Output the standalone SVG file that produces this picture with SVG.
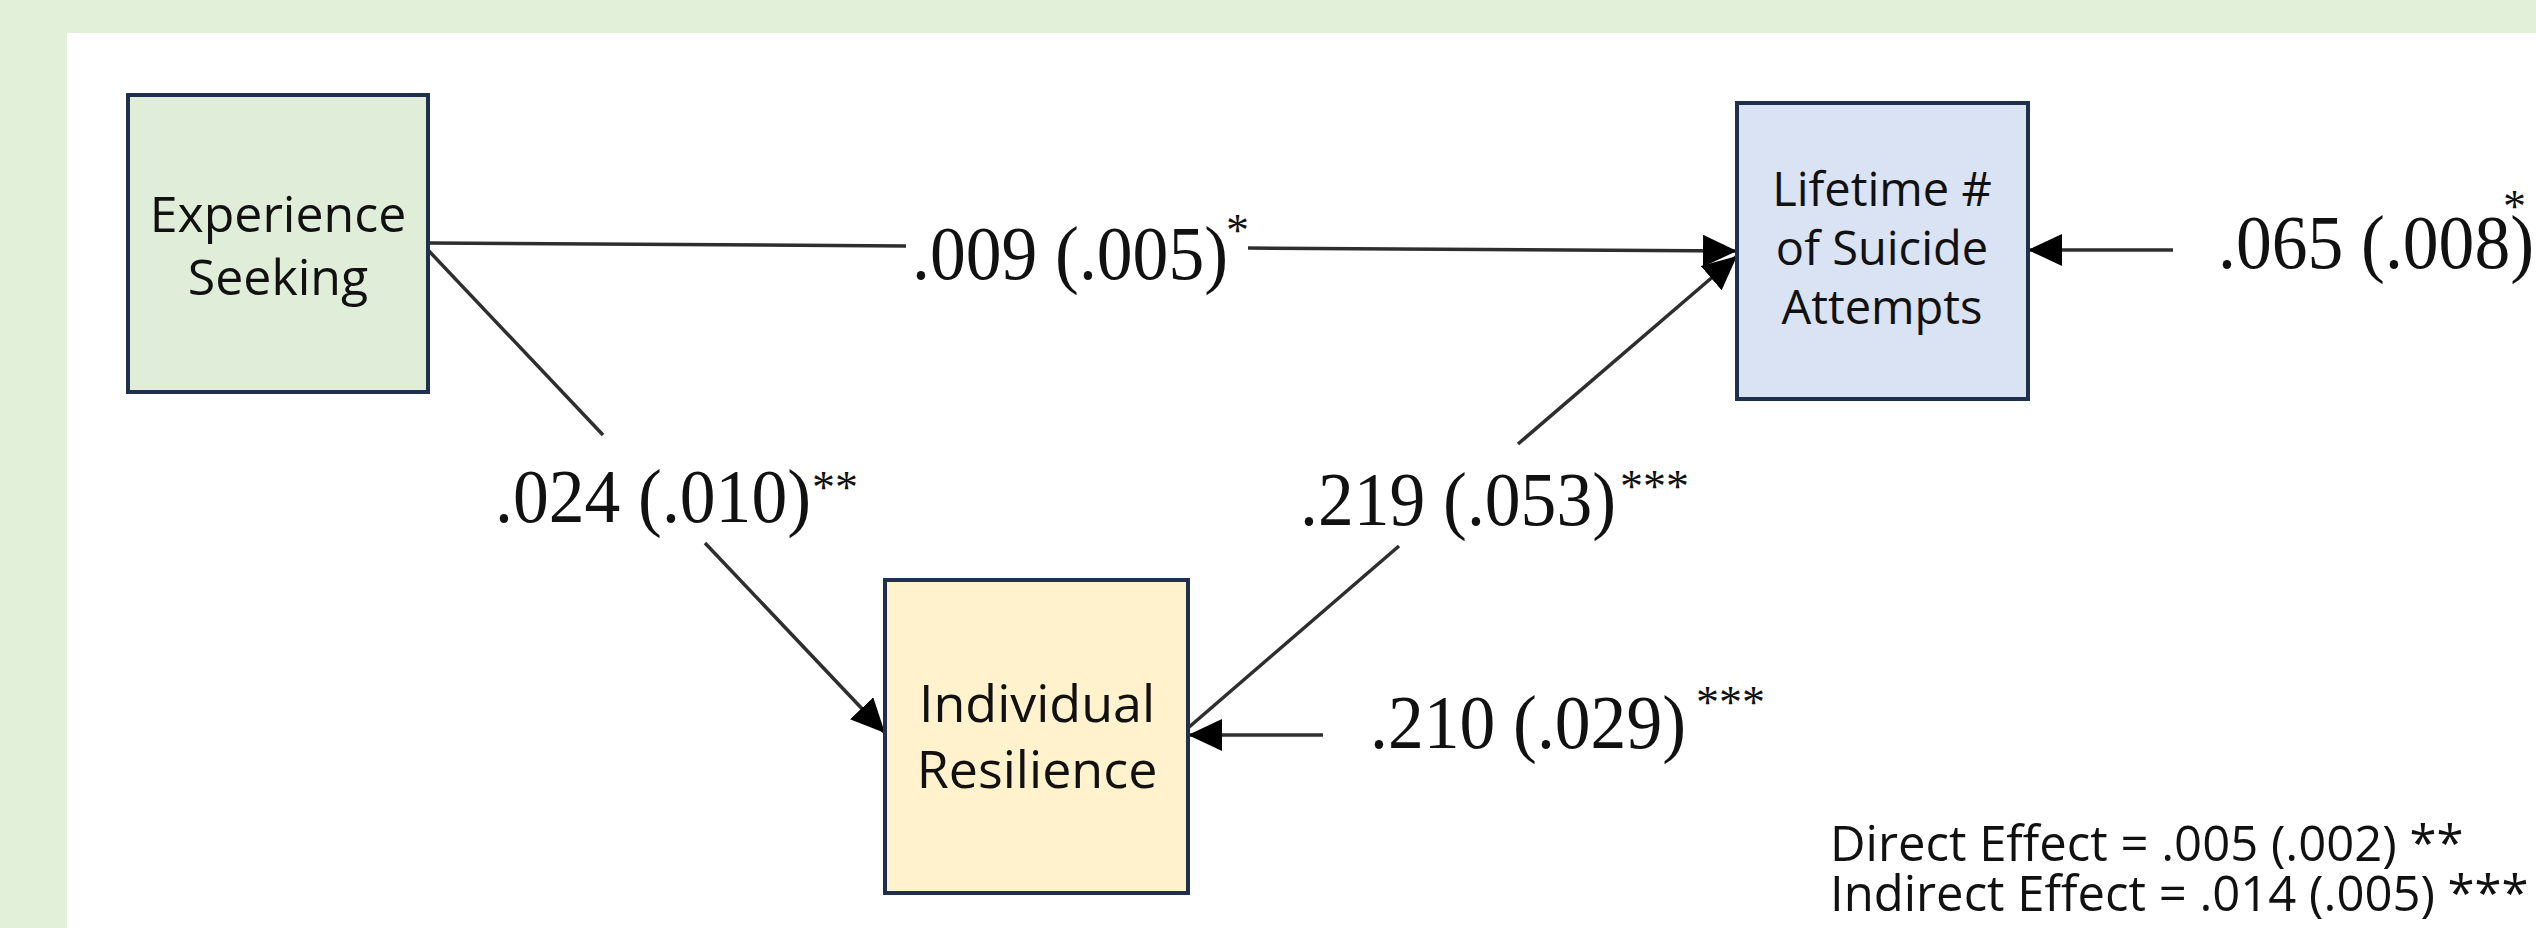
<svg xmlns="http://www.w3.org/2000/svg" width="2536" height="928" viewBox="0 0 2536 928">
  <style>
    .box { stroke: #1f2f4e; stroke-width: 4; }
    .node-label { font-family: "Open Sans", "Noto Sans", "Liberation Sans", sans-serif; fill: #111; text-anchor: middle; }
    .coef { font-family: "Liberation Serif", "Times New Roman", serif; font-size: 77px; fill: #111; }
    .sig { font-family: "Liberation Serif", "Times New Roman", serif; font-size: 46px; fill: #111; }
    .note { font-family: "Open Sans", "Noto Sans", "Liberation Sans", sans-serif; font-size: 49px; fill: #111; }
    .path-line { stroke: #2e2e2e; stroke-width: 3.5; fill: none; }
  </style>
  <defs>
    <marker id="head" viewBox="0 0 34 32" refX="34" refY="16" markerWidth="34" markerHeight="32" markerUnits="userSpaceOnUse" orient="auto">
      <path d="M0,0 L34,16 L0,32 Z" fill="#000"/>
    </marker>
  </defs>

  <!-- page background and white panel -->
  <rect x="0" y="0" width="2536" height="928" fill="#e2efd9"/>
  <rect x="67" y="33" width="2469" height="895" fill="#ffffff"/>

  <!-- path connectors -->
  <g id="connectors">
    <!-- Experience Seeking -> Lifetime # of Suicide Attempts (direct path) -->
    <line class="path-line" x1="428" y1="243" x2="906" y2="246"/>
    <line class="path-line" x1="1248" y1="248" x2="1737" y2="251" marker-end="url(#head)"/>
    <!-- Experience Seeking -> Individual Resilience -->
    <line class="path-line" x1="428" y1="250" x2="603" y2="435"/>
    <line class="path-line" x1="705" y1="543" x2="885" y2="733" marker-end="url(#head)"/>
    <!-- Individual Resilience -> Lifetime # of Suicide Attempts -->
    <line class="path-line" x1="1188" y1="728" x2="1399" y2="546"/>
    <line class="path-line" x1="1518" y1="444" x2="1737" y2="256" marker-end="url(#head)"/>
    <!-- residual terms -->
    <line class="path-line" x1="2173" y1="250" x2="2028" y2="250" marker-end="url(#head)"/>
    <line class="path-line" x1="1323" y1="735" x2="1188" y2="735" marker-end="url(#head)"/>
  </g>

  <!-- nodes -->
  <g id="experience-seeking">
    <rect class="box" x="128" y="95" width="300" height="297" fill="#e0eed9"/>
    <text class="node-label" font-size="50" x="278" y="232">Experience</text>
    <text class="node-label" font-size="50" x="278" y="295">Seeking</text>
  </g>

  <g id="lifetime-suicide-attempts">
    <rect class="box" x="1737" y="103" width="291" height="296" fill="#dae3f3"/>
    <text class="node-label" font-size="47" x="1882" y="206">Lifetime #</text>
    <text class="node-label" font-size="47" x="1882" y="265">of Suicide</text>
    <text class="node-label" font-size="47" x="1882" y="324">Attempts</text>
  </g>

  <g id="individual-resilience">
    <rect class="box" x="885" y="580" width="303" height="313" fill="#fff2cc"/>
    <text class="node-label" font-size="52" x="1037" y="722">Individual</text>
    <text class="node-label" font-size="52" x="1037" y="788">Resilience</text>
  </g>

  <!-- path coefficients (SE) and significance -->
  <g id="coefficients">
    <text class="coef" x="912" y="279" textLength="316" lengthAdjust="spacingAndGlyphs">.009 (.005)</text>
    <text class="sig" x="1226" y="246">*</text>

    <text class="coef" x="495" y="522" textLength="316" lengthAdjust="spacingAndGlyphs">.024 (.010)</text>
    <text class="sig" x="812" y="503">**</text>

    <text class="coef" x="1300" y="525" textLength="316" lengthAdjust="spacingAndGlyphs">.219 (.053)</text>
    <text class="sig" x="1620" y="502">***</text>

    <text class="coef" x="1370" y="748" textLength="316" lengthAdjust="spacingAndGlyphs">.210 (.029)</text>
    <text class="sig" x="1696" y="718">***</text>

    <text class="coef" x="2218" y="268" textLength="316" lengthAdjust="spacingAndGlyphs">.065 (.008)</text>
    <text class="sig" x="2503" y="222">*</text>
  </g>

  <!-- effect summary -->
  <g id="effects">
    <text class="note" x="1830" y="861">Direct Effect = .005 (.002) **</text>
    <text class="note" x="1830" y="911">Indirect Effect = .014 (.005) ***</text>
  </g>
</svg>
